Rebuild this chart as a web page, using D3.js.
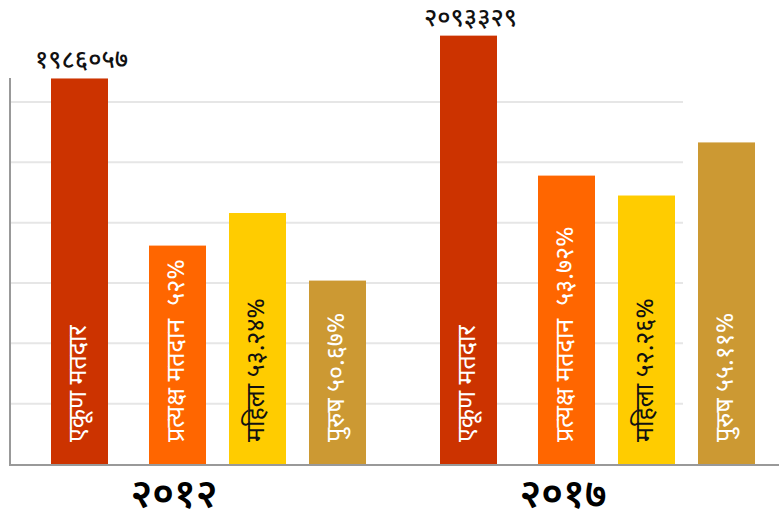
<!DOCTYPE html>
<html>
<head>
<meta charset="utf-8">
<script src="https://cdn.jsdelivr.net/npm/d3@7"></script>
<style>
  body { margin: 0; background: #fff; }
  #chart { width: 779px; height: 522px; }
  text { font-family: "Noto Sans Devanagari", "Lohit Devanagari", "Noto Sans", sans-serif; }
</style>
</head>
<body>
<div id="chart"></div>
<script>
// Chart data
const years = ["२०१२", "२०१७"];
const seriesKeys = ["total", "direct", "women", "men"];
const seriesNames = ["एकूण मतदार", "प्रत्यक्ष मतदान ", "महिला", "पुरुष"];
const seriesColors = ["#cc3300", "#ff6600", "#ffcc00", "#cc9933"];
const seriesTextColors = ["#fff", "#fff", "#111", "#fff"];
const totalVoters = [1986057, 2093329];
const directPct = [52, 53.72];
const womenPct = [53.24, 52.26];
const menPct = [50.67, 55.11];
// bar heights on the (unlabelled) grid
const barHeights2012 = [63.9, 36.2, 41.6, 30.4];
const barHeights2017 = [71.0, 47.8, 44.5, 53.3];
const gridTicks = [10, 20, 30, 40, 50, 60];

const devDigits = "०१२३४५६७८९";
const toDev = s => String(s).replace(/[0-9]/g, c => devDigits[+c]);

const width = 779, height = 522;
const svg = d3.select("#chart").append("svg")
    .attr("width", width)
    .attr("height", height);

// scales
const x0 = d3.scaleBand().domain(years).range([10, 788]);
const x1 = d3.scaleBand().domain(seriesKeys).range([59, 356])
    .paddingInner(23 / 80).paddingOuter(0);
const y = d3.scaleLinear().domain([0, 60]).range([464, 102]);
const color = d3.scaleOrdinal().domain(seriesKeys).range(seriesColors);
const textColor = d3.scaleOrdinal().domain(seriesKeys).range(seriesTextColors);
const totalShift = -18; // the first bar sits a bit further left

// gridlines
svg.append("g")
    .selectAll("line")
    .data(gridTicks)
    .join("line")
    .attr("x1", 10)
    .attr("x2", 683)
    .attr("y1", d => y(d))
    .attr("y2", d => y(d))
    .attr("stroke", "#e6e6e6")
    .attr("stroke-width", 2);

// build rows
const pctLabels = [directPct, womenPct, menPct];
const rows = years.map((yr, gi) => {
    const heights = gi === 0 ? barHeights2012 : barHeights2017;
    return seriesKeys.map((k, si) => ({
        year: yr,
        key: k,
        value: heights[si],
        label: si === 0 ? seriesNames[0]
            : `${seriesNames[si]} ${toDev(pctLabels[si - 1][gi])}%`
    }));
});

const barX = d => x0(d.year) + x1(d.key) + (d.key === "total" ? totalShift : 0);

const groups = svg.append("g")
    .selectAll("g")
    .data(rows)
    .join("g");

groups.selectAll("rect")
    .data(d => d)
    .join("rect")
    .attr("x", barX)
    .attr("y", d => y(d.value))
    .attr("width", x1.bandwidth())
    .attr("height", d => y(0) - y(d.value))
    .attr("fill", d => color(d.key));

// labels inside bars
groups.selectAll("text.inbar")
    .data(d => d)
    .join("text")
    .attr("class", "inbar")
    .attr("transform", d => `translate(${barX(d) + x1.bandwidth() / 2},${y(0) - 22}) rotate(-90)`)
    .attr("dominant-baseline", "central")
    .attr("text-anchor", "start")
    .style("white-space", "pre")
    .attr("font-size", 25)
    .attr("fill", d => textColor(d.key))
    .text(d => d.label);

// total voter numbers above the first bars
svg.append("g")
    .selectAll("text")
    .data(years.map((yr, i) => ({ year: yr, key: "total", value: (i === 0 ? barHeights2012 : barHeights2017)[0], n: totalVoters[i] })))
    .join("text")
    .attr("x", d => barX(d) + x1.bandwidth() / 2 + 2)
    .attr("y", d => y(d.value) - 10)
    .attr("text-anchor", "middle")
    .attr("font-size", 25)
    .attr("font-weight", 500)
    .attr("fill", "#111")
    .text(d => toDev(d.n));

// axes lines
svg.append("line")
    .attr("x1", 10).attr("x2", 10)
    .attr("y1", 78).attr("y2", y(0) + 1)
    .attr("stroke", "#999").attr("stroke-width", 2);
svg.append("line")
    .attr("x1", 9).attr("x2", width)
    .attr("y1", y(0) + 1).attr("y2", y(0) + 1)
    .attr("stroke", "#999").attr("stroke-width", 2);

// year labels
svg.append("g")
    .selectAll("text")
    .data(years)
    .join("text")
    .attr("x", d => x0(d) + 164)
    .attr("y", 507)
    .attr("text-anchor", "middle")
    .attr("font-size", 40)
    .attr("font-weight", 600)
    .attr("fill", "#000")
    .text(d => d);
</script>
</body>
</html>
